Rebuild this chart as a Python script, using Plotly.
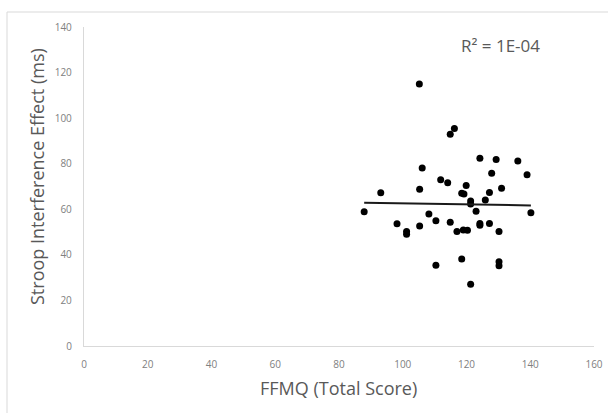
import numpy as np
import plotly.graph_objects as go

# FFMQ total score vs. Stroop interference effect
ffmq_total = [
    105.2, 116.2, 114.9, 124.2, 129.3, 136.1, 106.1, 127.9, 139.0, 111.9,
    114.1, 93.1, 105.3, 119.9, 118.5, 119.2, 131.0, 127.2, 125.9, 121.3,
    121.3, 87.9, 123.0, 140.2, 108.2, 110.4, 98.2, 105.3, 114.9, 124.2,
    124.2, 127.2, 101.2, 101.2, 117.0, 119.0, 120.3, 130.2, 118.5, 110.4,
    130.2, 130.2, 121.3,
]
stroop_ms = [
    115.0, 95.4, 92.9, 82.4, 81.8, 81.2, 78.1, 75.8, 75.2, 73.0,
    71.7, 67.3, 68.8, 70.4, 67.0, 66.7, 69.2, 67.4, 64.1, 63.6,
    62.3, 58.9, 59.1, 58.5, 57.9, 55.0, 53.7, 52.7, 54.3, 53.8,
    53.0, 53.8, 50.2, 49.0, 50.2, 50.9, 50.8, 50.2, 38.2, 35.4,
    37.0, 35.2, 27.1,
]
x_ticks = [0, 20, 40, 60, 80, 100, 120, 140, 160]
y_ticks = [0, 20, 40, 60, 80, 100, 120, 140]
x_title = "FFMQ (Total Score)"
y_title = "Stroop Interference Effect (ms)"
r2_label = "R² = 1E-04"

# Linear least-squares trendline over the observed score range
slope, intercept = np.polyfit(ffmq_total, stroop_ms, 1)
trend_x = [min(ffmq_total), max(ffmq_total)]
trend_y = [intercept + slope * v for v in trend_x]

FONT = "Open Sans, Lato, sans-serif"
GREY_TEXT = "#595959"
GREY_TICK = "#808080"
AXIS_LINE = "#d9d9d9"

W, H = 608, 413
ML, MR, MT, MB = 84, 14, 27, 67
PW, PH = W - ML - MR, H - MT - MB


def px_x(px):
    """Pixel column -> paper x."""
    return (px - ML) / PW


def px_y(py):
    """Pixel row -> paper y."""
    return (H - MB - py) / PH


fig = go.Figure()
fig.add_trace(go.Scatter(
    x=ffmq_total, y=stroop_ms, mode="markers",
    marker=dict(color="black", size=7),
    showlegend=False, hoverinfo="x+y",
))
fig.add_trace(go.Scatter(
    x=trend_x, y=trend_y, mode="lines",
    line=dict(color="#1a1a1a", width=2),
    showlegend=False, hoverinfo="skip",
))

fig.update_layout(
    width=W, height=H, autosize=False,
    margin=dict(l=ML, r=MR, t=MT, b=MB, autoexpand=False),
    paper_bgcolor="white", plot_bgcolor="white",
    font=dict(family=FONT, color=GREY_TEXT),
    xaxis=dict(
        range=[0, 160], tickvals=x_ticks, showgrid=False, zeroline=False,
        showline=True, linecolor=AXIS_LINE, linewidth=1.3, ticks="",
        automargin=False, ticklabelstandoff=9,
        tickfont=dict(size=10, color=GREY_TICK),
    ),
    yaxis=dict(
        range=[0, 140], tickvals=y_ticks, showgrid=False, zeroline=False,
        showline=True, linecolor=AXIS_LINE, linewidth=1.3, ticks="",
        automargin=False, ticklabelstandoff=9,
        tickfont=dict(size=10, color=GREY_TICK),
    ),
    annotations=[
        dict(x=px_x(500), y=px_y(46), xref="paper", yref="paper", text=r2_label,
             showarrow=False, font=dict(size=17, color=GREY_TEXT),
             xanchor="center", yanchor="middle"),
        dict(x=px_x(338), y=px_y(388), xref="paper", yref="paper", text=x_title,
             showarrow=False, font=dict(size=18, color=GREY_TEXT),
             xanchor="center", yanchor="middle"),
        dict(x=px_x(37), y=px_y(177), xref="paper", yref="paper", text=y_title,
             showarrow=False, font=dict(size=18, color=GREY_TEXT), textangle=-90,
             xanchor="center", yanchor="middle"),
    ],
    shapes=[
        # chart-area frame: left and top edges
        dict(type="line", xref="paper", yref="paper",
             x0=px_x(7), x1=px_x(7), y0=px_y(12), y1=px_y(H),
             line=dict(color=AXIS_LINE, width=1), layer="below"),
        dict(type="line", xref="paper", yref="paper",
             x0=px_x(7), x1=px_x(W), y0=px_y(12), y1=px_y(12),
             line=dict(color=AXIS_LINE, width=1), layer="below"),
    ],
)

# keep the fixed-size figure from producing page scrollbars
fig.write_html(
    "out.html",
    post_script="document.body.style.margin='0';document.body.style.overflow='hidden';",
)
